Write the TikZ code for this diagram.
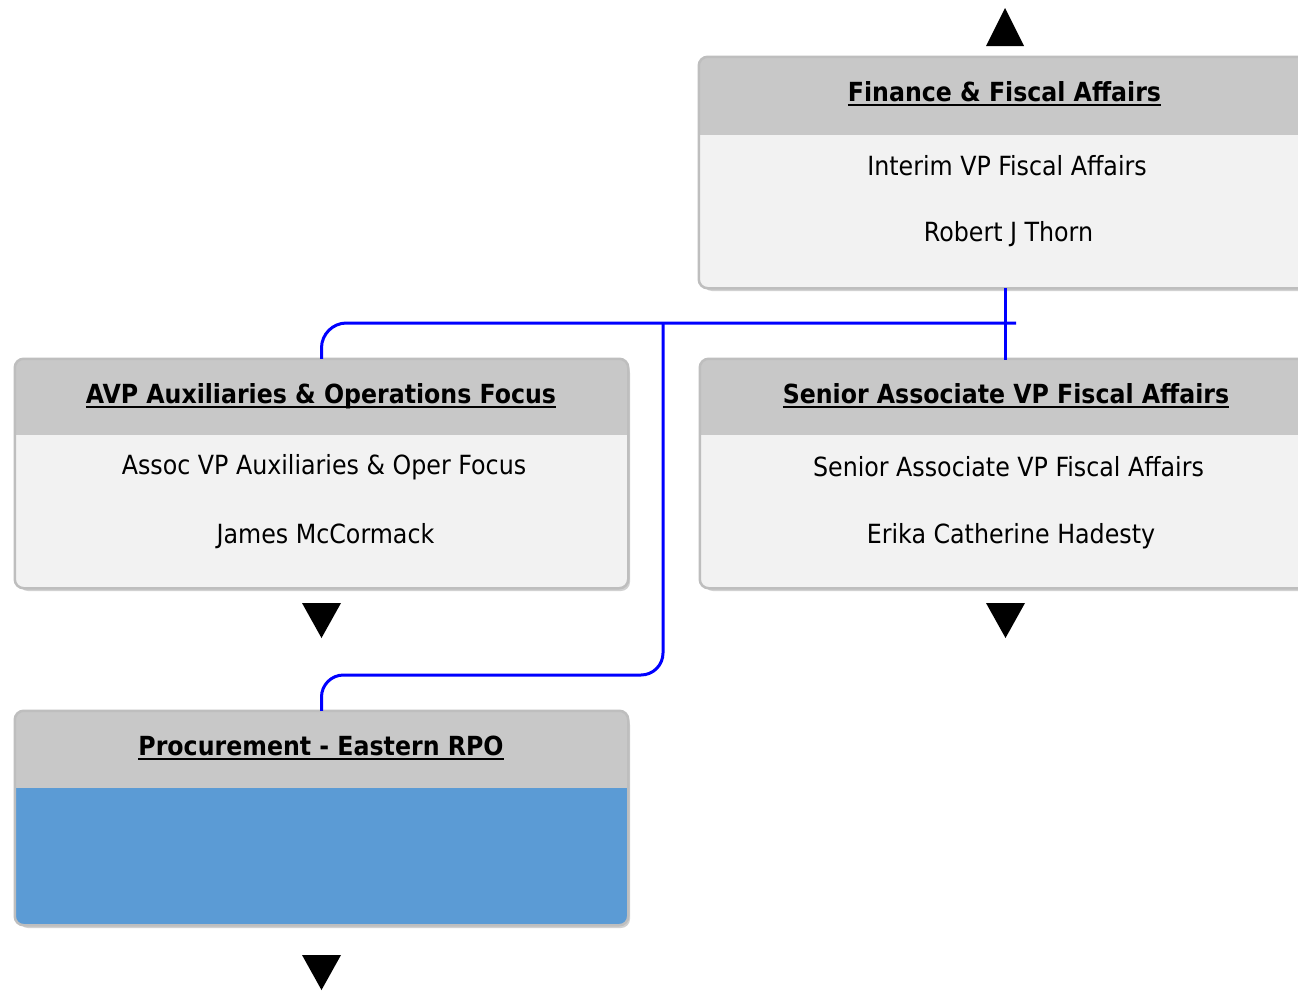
\documentclass[tikz,border=0pt]{standalone}
\usepackage{fontspec}
\setmainfont{DejaVu Sans Condensed}
\usetikzlibrary{shadows}
\definecolor{headgray}{HTML}{C8C8C8}
\definecolor{bodygray}{HTML}{F2F2F2}
\definecolor{bordergray}{HTML}{BEBEBE}
\definecolor{procblue}{HTML}{5B9BD5}
\definecolor{linkblue}{HTML}{0000FF}
\newcommand{\myul}[1]{\setbox0\hbox{#1}\rlap{\raisebox{-5pt}{\rule{\wd0}{2.2pt}}}\box0}
\tikzset{
  orgbox/.style={draw=bordergray, line width=2.5pt, rounded corners=9pt, fill=bodygray,
    drop shadow={shadow xshift=3pt, shadow yshift=-4pt, opacity=0.3, fill=black!60}},
  headtext/.style={font=\fontsize{26.3}{30}\selectfont\bfseries, text=black},
  bodytext/.style={font=\fontsize{26.4}{30}\selectfont, text=black},
  link/.style={draw=linkblue, line width=3pt},
  tri/.style={fill=black},
}
\newcommand{\orgheader}[3]{% node, header height, body colour
  \begin{scope}
    \clip[rounded corners=9pt] (#1.north west) rectangle (#1.south east);
    \fill[#3] (#1.north west) rectangle (#1.south east);
    \fill[headgray] (#1.north west) rectangle ([yshift=-#2pt]#1.north east);
  \end{scope}
  \draw[bordergray, line width=2.5pt, rounded corners=9pt] (#1.north west) rectangle (#1.south east);
}
\begin{document}
\begin{tikzpicture}[x=1pt,y=-1pt]
\useasboundingbox (0,0) rectangle (1298,993);
\begin{scope}
\clip (0,0) rectangle (1298,993);
% boxes
\node[orgbox, minimum width=611pt, minimum height=229pt, inner sep=0pt] (fin) at (1005.5,172.5) {};
\orgheader{fin}{78}{bodygray}
\node[orgbox, minimum width=611pt, minimum height=227pt, inner sep=0pt] (avp) at (321.5,473.5) {};
\orgheader{avp}{76}{bodygray}
\node[orgbox, minimum width=611pt, minimum height=227pt, inner sep=0pt] (sen) at (1006.5,473.5) {};
\orgheader{sen}{76}{bodygray}
\node[orgbox, minimum width=611pt, minimum height=212pt, inner sep=0pt] (proc) at (321.5,818) {};
\orgheader{proc}{77}{procblue}
\end{scope}
% texts
\node[headtext] (finh) at (1004.5,94) {\myul{Finance \& Fiscal Affairs}};
\node[bodytext] (fint) at (1007,166) {Interim VP Fiscal Affairs};
\node[bodytext] (finn) at (1008.5,234) {Robert J Thorn};
\node[headtext] (avph) at (321,396) {\myul{AVP Auxiliaries \& Operations Focus}};
\node[bodytext] (avpt) at (324,467) {Assoc VP Auxiliaries \& Oper Focus};
\node[bodytext] (avpn) at (325.5,536) {James McCormack};
\node[headtext] (senh) at (1006,396) {\myul{Senior Associate VP Fiscal Affairs}};
\node[bodytext] (sent) at (1008.5,467) {Senior Associate VP Fiscal Affairs};
\node[bodytext] (senn) at (1011,536) {Erika Catherine Hadesty};
\node[headtext] (proch) at (321,748) {\myul{Procurement - Eastern RPO}};
% connectors
\coordinate (busR) at (1016,323);
\coordinate (jn) at (663,323);
\coordinate (low) at (663,675);
\draw[link] (fin.south -| 1005,0) -- (1005,360);
\draw[link, rounded corners=25pt] (busR) -- (avp.north |- busR) -- (avp.north);
\draw[link, rounded corners=22pt] (jn) -- (low) -- (proc.north |- low) -- (proc.north);
% triangles
\fill[tri] (1005,8) -- (1024,46) -- (986,46) -- cycle;
\fill[tri] (302,603) -- (341,603) -- (321.5,638) -- cycle;
\fill[tri] (986,603) -- (1025,603) -- (1005.5,638) -- cycle;
\fill[tri] (302,955) -- (341,955) -- (321.5,990) -- cycle;
\end{tikzpicture}
\end{document}
